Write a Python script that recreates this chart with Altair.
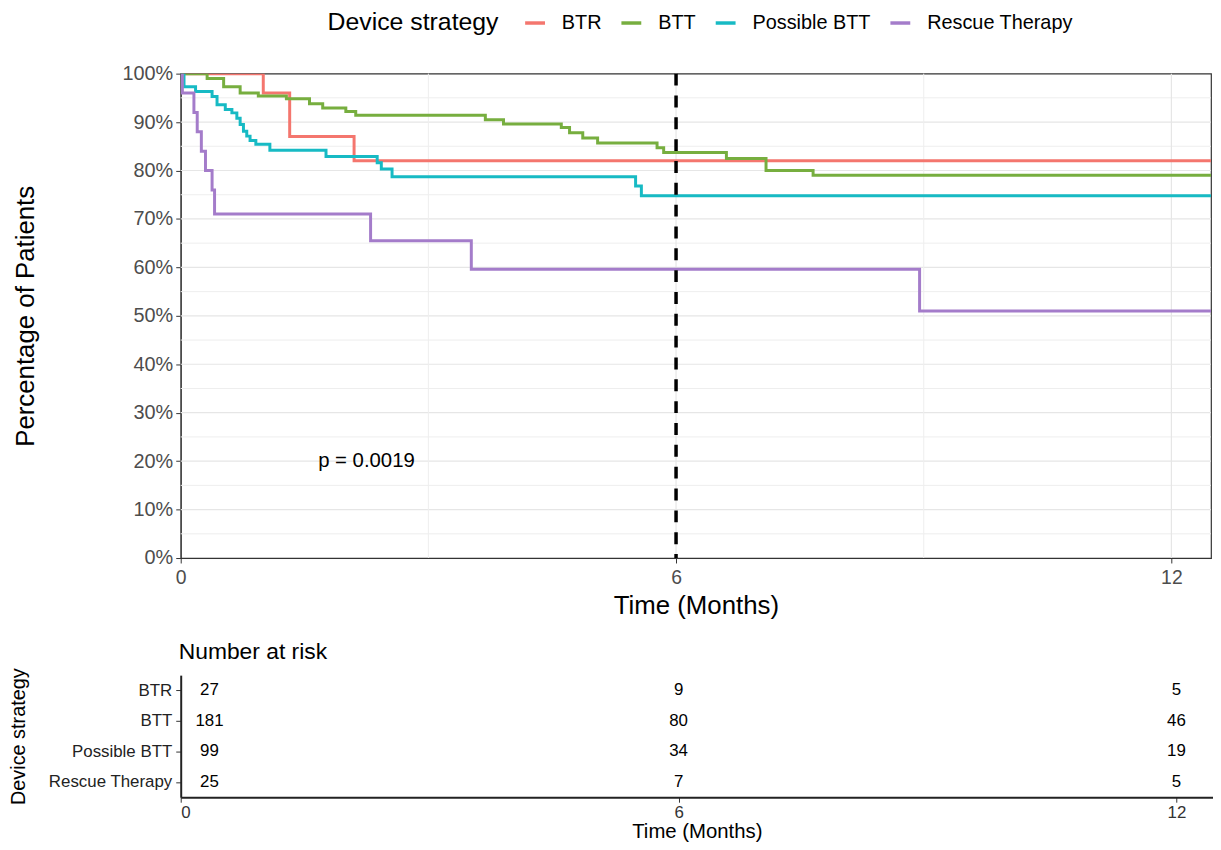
import altair as alt
import pandas as pd

# ---------------- data ----------------
STRATEGIES = ["BTR", "BTT", "Possible BTT", "Rescue Therapy"]
COLORS = ["#F4766E", "#77AE3F", "#17BAC4", "#A47CCA"]

BTR_T = [0, 1.0, 1.32, 2.1, 12.48]
BTR_S = [100, 96.0, 87.0, 82.0, 82.0]

BTT_T = [0, 0.32, 0.52, 0.72, 0.94, 1.28, 1.56, 1.72, 2.0, 2.12, 3.69, 3.91,
         4.61, 4.71, 4.87, 5.05, 5.77, 5.85, 6.61, 7.09, 7.66, 12.48]
BTT_S = [100, 99.0, 97.3, 96.0, 95.4, 94.8, 93.8, 92.9, 92.2, 91.4, 90.5, 89.6,
         88.9, 87.8, 86.7, 85.7, 84.7, 83.7, 82.5, 80.0, 79.0, 79.0]

PBTT_T = [0, 0.04, 0.18, 0.38, 0.44, 0.54, 0.62, 0.68, 0.72, 0.76, 0.80, 0.84,
          0.91, 1.08, 1.76, 2.38, 2.43, 2.56, 5.51, 5.58, 12.48]
PBTT_S = [100, 97.3, 96.3, 95.3, 93.6, 92.6, 91.9, 90.8, 89.5, 88.1, 87.1, 86.2,
          85.4, 84.2, 82.9, 81.6, 80.3, 78.7, 76.8, 74.8, 74.8]

RESCUE_T = [0, 0.02, 0.16, 0.20, 0.25, 0.30, 0.38, 0.41, 2.30, 3.52, 8.95, 12.48]
RESCUE_S = [100, 96.0, 92.0, 88.0, 84.0, 80.0, 76.0, 71.0, 65.5, 59.6, 51.0, 51.0]

RISK_TIMES = [0, 6, 12]
RISK_BTR = [27, 9, 5]
RISK_BTT = [181, 80, 46]
RISK_PBTT = [99, 34, 19]
RISK_RESCUE = [25, 7, 5]

X_TICKS = [0, 6, 12]
X_GRID_MAJOR = [6, 12]
X_GRID_MINOR = [3, 9]
Y_TICKS = [0, 10, 20, 30, 40, 50, 60, 70, 80, 90, 100]
Y_GRID_MAJOR = [10, 20, 30, 40, 50, 60, 70, 80, 90]
Y_GRID_MINOR = [5, 15, 25, 35, 45, 55, 65, 75, 85, 95]
CUTOFF = [6]
P_LABEL = "p = 0.0019"
P_X = 2.25
P_Y = 20
X_MAX_MAIN = 12.48
X_MAX_TABLE = 12.44

# ---------------- frames ----------------
rows = []
for name, ts, ss in zip(STRATEGIES, [BTR_T, BTT_T, PBTT_T, RESCUE_T],
                        [BTR_S, BTT_S, PBTT_S, RESCUE_S]):
    for t, s in zip(ts, ss):
        rows.append({"strategy": name, "time": t, "surv": s})
curves = pd.DataFrame(rows)

risk_rows = []
for name, vals in zip(STRATEGIES, [RISK_BTR, RISK_BTT, RISK_PBTT, RISK_RESCUE]):
    for t, n in zip(RISK_TIMES, vals):
        risk_rows.append({"strategy": name, "time": t, "n": n})
risk = pd.DataFrame(risk_rows)

FONT = "Liberation Sans"

X_ENC = alt.X(
    "time:Q",
    scale=alt.Scale(domain=[0, X_MAX_MAIN], nice=False, zero=False),
    axis=alt.Axis(values=X_TICKS, grid=False, title="Time (Months)",
                  labelFontSize=19.5, labelColor="#4D4D4D", titleFontSize=26,
                  titleFontWeight="normal", titleColor="black", tickSize=5,
                  tickColor="#333333", domainColor="#333333", labelPadding=6,
                  titlePadding=5, labelFlush=False),
)
Y_ENC = alt.Y(
    "surv:Q",
    scale=alt.Scale(domain=[0, 100], nice=False),
    axis=alt.Axis(values=Y_TICKS, grid=False, title="Percentage of Patients",
                  labelExpr="datum.value + '%'", labelFontSize=20,
                  labelColor="#4D4D4D", titleFontSize=26, titleFontWeight="normal",
                  titleColor="black", tickSize=5, tickColor="#333333",
                  domainColor="#333333", labelPadding=3, titlePadding=84),
)

grid_y_major = alt.Chart(pd.DataFrame({"surv": Y_GRID_MAJOR})).mark_rule(
    color="#E6E6E6", strokeWidth=1.2).encode(y=Y_ENC)
grid_y_minor = alt.Chart(pd.DataFrame({"surv": Y_GRID_MINOR})).mark_rule(
    color="#EEEEEE", strokeWidth=1).encode(y=Y_ENC)
grid_x_major = alt.Chart(pd.DataFrame({"time": X_GRID_MAJOR})).mark_rule(
    color="#E6E6E6", strokeWidth=1.2).encode(x=X_ENC)
grid_x_minor = alt.Chart(pd.DataFrame({"time": X_GRID_MINOR})).mark_rule(
    color="#EEEEEE", strokeWidth=1).encode(x=X_ENC)

lines = alt.Chart(curves).mark_line(
    interpolate="step-after", strokeWidth=3, clip=True).encode(
    x=X_ENC,
    y=Y_ENC,
    color=alt.Color(
        "strategy:N",
        scale=alt.Scale(domain=STRATEGIES, range=COLORS),
        legend=alt.Legend(
            title="Device strategy", orient="none", legendX=148, legendY=-63,
            direction="horizontal", titleOrient="left", titleFontSize=25,
            titleFontWeight="normal", titleColor="black", labelFontSize=20,
            labelColor="black", symbolType="stroke", symbolStrokeWidth=3.5,
            symbolSize=400, labelOffset=15, columnPadding=13, titlePadding=24,
        ),
    ),
    detail="strategy:N",
)

cut = alt.Chart(pd.DataFrame({"time": CUTOFF})).mark_rule(
    color="black", strokeWidth=3.5, strokeDash=[12, 10]).encode(x=X_ENC)

ptext = alt.Chart(pd.DataFrame({"time": [P_X], "surv": [P_Y], "label": [P_LABEL]})).mark_text(
    fontSize=20.5, color="black", align="center", baseline="middle").encode(
    x=X_ENC, y=Y_ENC, text="label:N")

main = alt.layer(grid_y_minor, grid_y_major, grid_x_minor, grid_x_major,
                 lines, cut, ptext).properties(
    width=1038, height=488,
    view=alt.ViewBackground(stroke="#333333", strokeWidth=1.2),
)

# ---------------- risk table ----------------
TX = alt.X(
    "time:Q",
    scale=alt.Scale(domain=[0, X_MAX_TABLE], nice=False, zero=False),
    axis=alt.Axis(values=X_TICKS, grid=False, title="Time (Months)",
                  labelFontSize=17, labelColor="#333333", titleFontSize=20.5,
                  titleFontWeight="normal", titleColor="black", tickSize=5,
                  tickColor="#333333", domainColor="#222222", domainWidth=2,
                  labelPadding=2, titlePadding=2),
)
TY = alt.Y(
    "strategy:N",
    sort=STRATEGIES,
    scale=alt.Scale(domain=STRATEGIES, paddingInner=0, paddingOuter=0),
    axis=alt.Axis(title="Device strategy", labelFontSize=17, labelColor="#222222",
                  titleFontSize=20, titleFontWeight="normal", titleColor="black",
                  tickSize=5, tickColor="#333333", domainColor="#222222",
                  domainWidth=2, labelPadding=4, titlePadding=20, grid=False),
)

risk_base = alt.Chart(risk)
risk_first = risk_base.transform_filter(alt.datum.time == 0).mark_text(
    fontSize=17, color="black", dx=29, baseline="middle").encode(
    x=TX, y=TY, text="n:Q")
risk_rest = risk_base.transform_filter(alt.datum.time > 0).mark_text(
    fontSize=17, color="black", baseline="middle").encode(
    x=TX, y=TY, text="n:Q")

table = alt.layer(risk_first, risk_rest).properties(
    width=1040, height=123,
    title=alt.TitleParams("Number at risk", anchor="start", frame="group",
                          fontSize=23, fontWeight="normal", color="black",
                          offset=4, dx=-2),
)

chart = alt.vconcat(main, table, spacing=21).properties(
    padding={"left": 0, "top": 0, "right": 0, "bottom": 0},
).configure(font=FONT).configure_view(stroke=None)

chart.save("out.html", embed_options={"renderer": "svg", "actions": False})
